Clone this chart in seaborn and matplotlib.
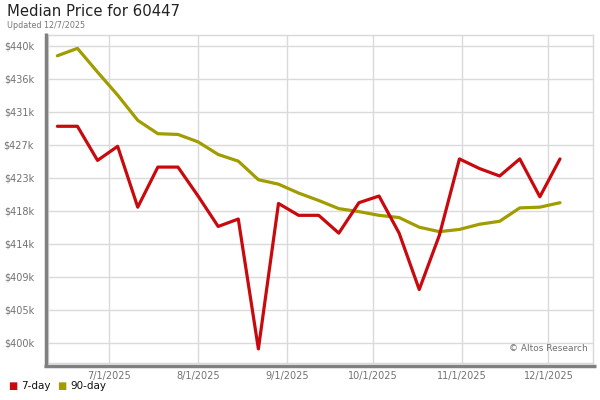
import pandas as pd
import numpy as np
import matplotlib
matplotlib.use("Agg")
import matplotlib.pyplot as plt
from matplotlib.lines import Line2D
import seaborn as sns

# weekly dates (Fridays)
dates = ["2025-06-13", "2025-06-20", "2025-06-27", "2025-07-04", "2025-07-11",
         "2025-07-18", "2025-07-25", "2025-08-01", "2025-08-08", "2025-08-15",
         "2025-08-22", "2025-08-29", "2025-09-05", "2025-09-12", "2025-09-19",
         "2025-09-26", "2025-10-03", "2025-10-10", "2025-10-17", "2025-10-24",
         "2025-10-31", "2025-11-07", "2025-11-14", "2025-11-21", "2025-11-28",
         "2025-12-05"]

# median price, $k
price_7day = [429.5, 429.5, 424.9, 426.8, 418.6, 424.0, 424.0, 420.1, 416.0, 417.0,
              399.5, 419.1, 417.5, 417.5, 415.1, 419.2, 420.1, 415.1, 407.5, 414.8,
              425.1, 423.8, 422.8, 425.1, 420.0, 425.1]
price_90day = [439.0, 440.0, 436.8, 433.7, 430.3, 428.5, 428.4, 427.4, 425.7, 424.8,
               422.3, 421.7, 420.5, 419.5, 418.4, 418.0, 417.5, 417.2, 415.9, 415.3,
               415.6, 416.3, 416.7, 418.5, 418.6, 419.2]

ytick_vals = [400.3, 404.75, 409.2, 413.65, 418.1, 422.55, 427.0, 431.45, 435.9, 440.35]
ytick_labels = ["$400k", "$405k", "$409k", "$414k", "$418k", "$423k", "$427k",
                "$431k", "$436k", "$440k"]
xtick_dates = ["2025-07-01", "2025-08-01", "2025-09-01", "2025-10-01", "2025-11-01", "2025-12-01"]
xtick_labels = ["7/1/2025", "8/1/2025", "9/1/2025", "10/1/2025", "11/1/2025", "12/1/2025"]

red = "#c80a0f"
olive = "#a19c00"

df = pd.DataFrame({"date": pd.to_datetime(dates), "7-day": price_7day, "90-day": price_90day})
long_df = df.melt(id_vars="date", var_name="series", value_name="price")

sns.set_style("white")
plt.rcParams["font.family"] = ["DejaVu Sans"]

fig = plt.figure(figsize=(6, 4), dpi=100)
ax = fig.add_axes([48 / 600, 1 - 363 / 400, (593 - 48) / 600, (363 - 35) / 400])

sns.lineplot(data=long_df, x="date", y="price", hue="series",
             palette={"7-day": red, "90-day": olive}, hue_order=["90-day", "7-day"],
             linewidth=2.3, ax=ax, legend=False)

ax.set_xlim(pd.Timestamp("2025-06-09 18:00"), pd.Timestamp("2025-12-16 12:00"))
ax.set_ylim(397.6, 441.8)
ax.set_yticks(ytick_vals)
ax.set_yticklabels(ytick_labels)
ax.set_xticks(pd.to_datetime(xtick_dates))
ax.set_xticklabels(xtick_labels)
ax.tick_params(axis="both", length=0, labelsize=7, colors="#727272")
ax.tick_params(axis="y", pad=10)
ax.tick_params(axis="x", pad=6)
ax.set_xlabel("")
ax.set_ylabel("")
ax.grid(True, color="#dadada", linewidth=1)
ax.set_axisbelow(True)

for side in ["top", "right", "left", "bottom"]:
    ax.spines[side].set_color("#d8d8d8")
    ax.spines[side].set_linewidth(1)

# thick gray shadow on left and bottom
fig.add_artist(Line2D([45.5 / 600, 45.5 / 600], [1 - 33 / 400, 1 - 367 / 400],
                      color="#808080", linewidth=2.5, solid_capstyle="butt"))
fig.add_artist(Line2D([44 / 600, 596 / 600], [1 - 365.5 / 400, 1 - 365.5 / 400],
                      color="#808080", linewidth=2.5, solid_capstyle="butt"))

ax.text(0.99, 0.03, "\u00a9 Altos Research", transform=ax.transAxes, ha="right",
        va="bottom", fontsize=6.5, color="#707070")

fig.text(7 / 600, 1 - 12 / 400, "Median Price for 60447", fontsize=10.7, color="#222222", va="center")
fig.text(7 / 600, 1 - 25 / 400, "Updated 12/7/2025", fontsize=5.8, color="#777777", va="center")

# legend
fig.text(8 / 600, 1 - 386 / 400, "\u25a0", fontsize=7, color=red, va="center")
fig.text(21 / 600, 1 - 386 / 400, "7-day", fontsize=7.5, color="#111111", va="center")
fig.text(57 / 600, 1 - 386 / 400, "\u25a0", fontsize=7, color=olive, va="center")
fig.text(70 / 600, 1 - 386 / 400, "90-day", fontsize=7.5, color="#111111", va="center")

fig.savefig("out.png", dpi=100)
